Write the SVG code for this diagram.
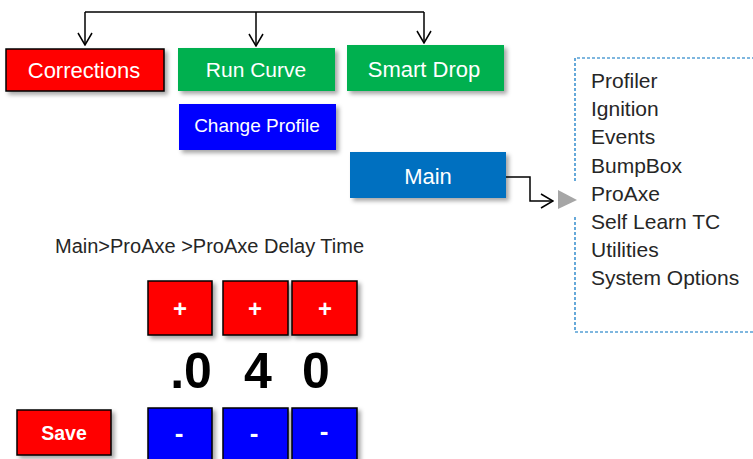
<svg xmlns="http://www.w3.org/2000/svg" width="753" height="459" viewBox="0 0 753 459">
<defs>
<filter id="sh" x="-10%" y="-10%" width="130%" height="140%">
<feDropShadow dx="3" dy="3" stdDeviation="2" flood-color="#000" flood-opacity="0.35"/>
</filter>
<marker id="chev" viewBox="0 0 14 16" markerWidth="14" markerHeight="16" refX="13" refY="8" orient="auto" markerUnits="userSpaceOnUse">
<path d="M1,1 L13,8 L1,15" fill="none" stroke="#000" stroke-width="1.5"/>
</marker>
</defs>
<style>
text{font-family:"Liberation Sans",Arial,sans-serif}
.lbl{fill:#fff;font-size:21px;text-anchor:middle}
.btn{stroke:#000;stroke-width:1.5}
.sym{fill:#fff;font-weight:bold;text-anchor:middle}
.list{fill:#262626;font-size:21px}
.conn{fill:none;stroke:#000;stroke-width:1.5}
.dig{fill:#000;font-weight:bold;font-size:50px;text-anchor:middle}
</style>
<rect width="753" height="459" fill="#fff"/>
<g id="connectors">
<path class="conn" d="M85,12 H424"/>
<path class="conn" d="M85,12 V45" marker-end="url(#chev)"/>
<path class="conn" d="M256,12 V46" marker-end="url(#chev)"/>
<path class="conn" d="M424,12 V43" marker-end="url(#chev)"/>
<path class="conn" d="M506,177 H530 V201 H553" marker-end="url(#chev)"/>
<polygon points="558,190 577,200 558,209" fill="#A6A6A6"/>
</g>
<g id="corrections">
<rect x="6" y="49" width="158" height="42" fill="#FF0000" stroke="#000" stroke-width="1.5" filter="url(#sh)"/>
<text class="lbl" x="84" y="78" style="font-size:22px">Corrections</text>
</g>
<g id="run-curve">
<rect x="178" y="48" width="157" height="43" fill="#00B050" filter="url(#sh)"/>
<text class="lbl" x="256" y="77">Run Curve</text>
</g>
<g id="smart-drop">
<rect x="347" y="45" width="157" height="46" fill="#00B050" filter="url(#sh)"/>
<text class="lbl" x="424" y="77" style="font-size:22px">Smart Drop</text>
</g>
<g id="change-profile">
<rect x="179" y="104" width="157" height="46" fill="#0000FF" filter="url(#sh)"/>
<text class="lbl" x="257" y="132" style="font-size:19px">Change Profile</text>
</g>
<g id="main">
<rect x="350" y="152" width="156" height="46" fill="#0070C0" filter="url(#sh)"/>
<text class="lbl" x="428" y="184" style="font-size:22px">Main</text>
</g>
<g id="menu-list">
<path d="M760,58 H575 V182 M575,217 V332 H760" fill="none" stroke="#0070C0" stroke-width="1.2" stroke-dasharray="3,2"/>
<text class="list" x="591" y="88">Profiler</text>
<text class="list" x="591" y="116">Ignition</text>
<text class="list" x="591" y="144">Events</text>
<text class="list" x="591" y="173">BumpBox</text>
<text class="list" x="591" y="201">ProAxe</text>
<text class="list" x="591" y="229">Self Learn TC</text>
<text class="list" x="591" y="257">Utilities</text>
<text class="list" x="591" y="285">System Options</text>
</g>
<g id="breadcrumb">
<text x="55" y="253" fill="#262626" font-size="20">Main&gt;ProAxe &gt;ProAxe Delay Time</text>
</g>
<g id="plus-buttons">
<rect class="btn" x="148" y="281" width="64" height="54" fill="#FF0000" filter="url(#sh)"/>
<rect class="btn" x="223" y="281" width="65" height="54" fill="#FF0000" filter="url(#sh)"/>
<rect class="btn" x="292" y="281" width="65" height="54" fill="#FF0000" filter="url(#sh)"/>
<text class="sym" x="180" y="317" font-size="24">+</text>
<text class="sym" x="255" y="317" font-size="24">+</text>
<text class="sym" x="325" y="317" font-size="24">+</text>
</g>
<g id="digits">
<text class="dig" x="191" y="388">.0</text>
<text class="dig" x="258" y="388">4</text>
<text class="dig" x="316" y="388">0</text>
</g>
<g id="minus-buttons">
<rect class="btn" x="148" y="408" width="64" height="56" fill="#0000FF" filter="url(#sh)"/>
<rect class="btn" x="223" y="408" width="65" height="56" fill="#0000FF" filter="url(#sh)"/>
<rect class="btn" x="292" y="408" width="65" height="56" fill="#0000FF" filter="url(#sh)"/>
<text class="sym" x="179" y="442" font-size="26">-</text>
<text class="sym" x="254" y="442" font-size="26">-</text>
<text class="sym" x="324" y="440" font-size="26">-</text>
</g>
<g id="save">
<rect class="btn" x="17" y="410" width="94" height="45" fill="#FF0000" filter="url(#sh)"/>
<text class="sym" x="64" y="440" font-size="19.5">Save</text>
</g>
</svg>
